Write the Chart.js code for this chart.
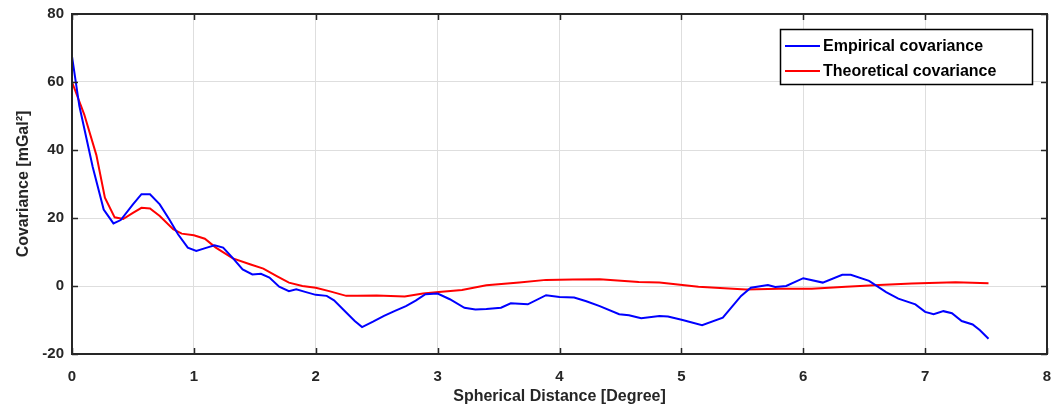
<!DOCTYPE html>
<html>
<head>
<meta charset="utf-8">
<script src="https://cdn.jsdelivr.net/npm/chart.js@4.4.0/dist/chart.umd.min.js"></script>
<style>
  html, body { margin: 0; padding: 0; background: #fff; }
  #wrap { width: 1051px; height: 414px; position: relative; }
</style>
</head>
<body>
<div id="wrap"><canvas id="c" width="1051" height="414"></canvas></div>
<script>
// ---- data ----
const empiricalX = [0, 0.06, 0.17, 0.26, 0.34, 0.40, 0.50, 0.57, 0.64, 0.72, 0.80, 0.87, 0.95, 1.02, 1.10, 1.17, 1.24, 1.32, 1.40, 1.48, 1.55, 1.62, 1.70, 1.78, 1.84, 1.92, 2.00, 2.09, 2.15, 2.25, 2.32, 2.38, 2.47, 2.56, 2.65, 2.74, 2.82, 2.90, 3.00, 3.10, 3.22, 3.31, 3.40, 3.52, 3.60, 3.74, 3.89, 4.00, 4.12, 4.22, 4.33, 4.49, 4.57, 4.67, 4.82, 4.89, 5.01, 5.17, 5.34, 5.49, 5.57, 5.71, 5.77, 5.86, 6.00, 6.16, 6.32, 6.39, 6.54, 6.68, 6.78, 6.92, 7.00, 7.07, 7.15, 7.22, 7.30, 7.39, 7.45, 7.52];
const empiricalY = [67.5, 53, 35, 22.5, 18.4, 19.4, 24, 27, 27, 24, 19.5, 15.2, 11.3, 10.3, 11.2, 12, 11.3, 8.2, 4.9, 3.4, 3.6, 2.5, -0.2, -1.5, -1, -1.8, -2.6, -2.9, -4.2, -7.8, -10.3, -12.1, -10.5, -8.8, -7.3, -5.9, -4.3, -2.4, -2.2, -3.9, -6.4, -6.9, -6.8, -6.4, -5.1, -5.4, -2.7, -3.2, -3.4, -4.5, -5.9, -8.3, -8.6, -9.5, -8.8, -9, -10, -11.5, -9.3, -2.9, -0.5, 0.3, -0.3, 0, 2.3, 1.0, 3.3, 3.3, 1.5, -1.8, -3.7, -5.4, -7.6, -8.3, -7.4, -8.0, -10.3, -11.3, -13, -15.5];
const theoreticalX = [0, 0.10, 0.20, 0.27, 0.35, 0.42, 0.50, 0.57, 0.64, 0.72, 0.83, 0.90, 1.00, 1.09, 1.18, 1.32, 1.46, 1.57, 1.68, 1.78, 1.89, 2.00, 2.11, 2.25, 2.34, 2.50, 2.73, 2.88, 3.01, 3.20, 3.40, 3.67, 3.89, 4.11, 4.33, 4.65, 4.82, 5.14, 5.53, 5.80, 6.07, 6.35, 6.62, 6.89, 7.25, 7.52];
const theoreticalY = [60, 50.5, 38.5, 26, 20.2, 19.7, 21.5, 23, 22.8, 20.6, 16.7, 15.4, 14.9, 13.9, 11.3, 8.1, 6.4, 5.1, 2.9, 1.0, 0, -0.5, -1.5, -2.9, -2.9, -2.8, -3.1, -2.2, -1.8, -1.2, 0.2, 1.0, 1.8, 1.9, 2.0, 1.2, 1.0, -0.2, -1.0, -0.8, -0.8, -0.2, 0.3, 0.7, 1.1, 0.8];
const seriesNames = ["Empirical covariance", "Theoretical covariance"];
const xTicks = [0, 1, 2, 3, 4, 5, 6, 7, 8];
const yTicks = [-20, 0, 20, 40, 60, 80];
const xTitle = "Spherical Distance [Degree]";
const yTitle = "Covariance [mGal²]";

const toPoints = (xs, ys) => xs.map((x, i) => ({ x: x, y: ys[i] }));

const FONT = "'Liberation Sans', Arial, Helvetica, sans-serif";
const TXT = "#262626";

const framePlugin = {
  id: 'frame',
  afterDraw(chart) {
    const ctx = chart.ctx;
    const a = chart.chartArea;
    const xs = chart.scales.x, ys = chart.scales.y;
    ctx.save();
    ctx.strokeStyle = TXT;
    ctx.lineWidth = 1.5;
    ctx.beginPath();
    const tl = 6;
    xTicks.forEach(v => {
      const px = Math.round(xs.getPixelForValue(v)) + 0.5;
      ctx.moveTo(px, a.bottom); ctx.lineTo(px, a.bottom - tl);
      ctx.moveTo(px, a.top); ctx.lineTo(px, a.top + tl);
    });
    yTicks.forEach(v => {
      const py = Math.round(ys.getPixelForValue(v)) + 0.5;
      ctx.moveTo(a.left, py); ctx.lineTo(a.left + tl, py);
      ctx.moveTo(a.right, py); ctx.lineTo(a.right - tl, py);
    });
    ctx.stroke();
    ctx.lineWidth = 2;
    ctx.strokeRect(a.left, a.top, a.right - a.left, a.bottom - a.top);

    const lx = 780, ly = 29, lw = 252, lh = 55;
    ctx.fillStyle = '#ffffff';
    ctx.fillRect(lx, ly, lw, lh);
    ctx.strokeStyle = '#000000';
    ctx.lineWidth = 1.5;
    ctx.strokeRect(lx + 0.5, ly + 0.5, lw, lh);
    const rows = [46, 71];
    chart.data.datasets.forEach((ds, i) => {
      const y = rows[i];
      ctx.strokeStyle = ds.borderColor;
      ctx.lineWidth = 2;
      ctx.beginPath();
      ctx.moveTo(785, y); ctx.lineTo(820, y);
      ctx.stroke();
      ctx.fillStyle = '#000000';
      ctx.font = "bold 16px " + FONT;
      ctx.textBaseline = 'middle';
      ctx.textAlign = 'left';
      ctx.fillText(ds.label, 823, y + 1);
    });
    ctx.restore();
  }
};

new Chart(document.getElementById('c'), {
  type: 'line',
  data: {
    datasets: [
      { label: seriesNames[0], data: toPoints(empiricalX, empiricalY), borderColor: '#0000ff', borderWidth: 2, pointRadius: 0, tension: 0, fill: false },
      { label: seriesNames[1], data: toPoints(theoreticalX, theoreticalY), borderColor: '#ff0000', borderWidth: 2, pointRadius: 0, tension: 0, fill: false }
    ]
  },
  options: {
    responsive: false,
    animation: false,
    layout: { padding: { top: 14, right: 4, left: 0, bottom: 0 } },
    plugins: { legend: { display: false }, tooltip: { enabled: false } },
    scales: {
      x: {
        type: 'linear', min: 0, max: 8,
        afterBuildTicks: s => { s.ticks = xTicks.map(v => ({ value: v })); },
        afterFit: s => { s.height = 60; s.paddingLeft = 0; s.paddingRight = 0; },
        grid: { color: '#dedede', lineWidth: 1, drawTicks: false },
        border: { display: false },
        ticks: { color: TXT, font: { family: FONT, size: 15, weight: 'bold' }, padding: 14, maxRotation: 0 },
        title: { display: true, text: xTitle, color: TXT, font: { family: FONT, size: 16, weight: 'bold' }, padding: { top: 0, bottom: 8 } }
      },
      y: {
        type: 'linear', min: -20, max: 80,
        afterBuildTicks: s => { s.ticks = yTicks.map(v => ({ value: v })); },
        afterFit: s => { s.width = 72; s.paddingTop = 0; s.paddingBottom = 0; },
        grid: { color: '#dedede', lineWidth: 1, drawTicks: false },
        border: { display: false },
        ticks: { color: TXT, font: { family: FONT, size: 15, weight: 'bold' }, padding: 8 },
        title: { display: true, text: yTitle, color: TXT, font: { family: FONT, size: 16, weight: 'bold' }, padding: { top: 14, bottom: 0 } }
      }
    }
  },
  plugins: [framePlugin]
});
</script>
</body>
</html>
